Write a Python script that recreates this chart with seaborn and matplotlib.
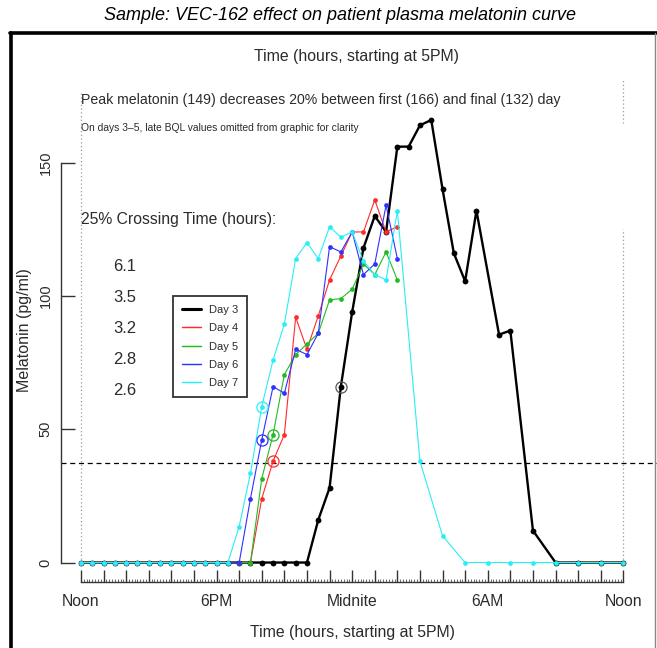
import numpy as np
import matplotlib.pyplot as plt
from matplotlib.lines import Line2D
import seaborn as sns

# Melatonin curves.
# Hours are counted from noon (0 = noon, 12 = midnight, 24 = next noon).
day3_hours = [0, 0.5, 1, 1.5, 2, 2.5, 3, 3.5, 4, 4.5, 5, 5.5, 6, 6.5, 7, 7.5, 8, 8.5, 9, 9.5, 10,
              10.5, 11, 11.5, 12, 12.5, 13, 13.5, 14, 14.5, 15, 15.5, 16, 16.5, 17, 17.5,
              18.5, 19, 20, 21, 22, 23, 24]
day3_values = [0, 0, 0, 0, 0, 0, 0, 0, 0, 0, 0, 0, 0, 0, 0, 0, 0, 0, 0, 0, 0,
               16, 28, 66, 94, 118, 130, 124, 156, 156, 164, 166, 140, 116, 105.5, 132,
               85.5, 87, 12, 0, 0, 0, 0]

day4_hours = [0, 0.5, 1, 1.5, 2, 2.5, 3, 3.5, 4, 4.5, 5, 5.5, 6, 6.5, 7, 7.5,
              8, 8.5, 9, 9.5, 10, 10.5, 11, 11.5, 12, 12.5, 13, 13.5, 14]
day4_values = [0, 0, 0, 0, 0, 0, 0, 0, 0, 0, 0, 0, 0, 0, 0, 0,
               24, 38, 48, 92, 80, 92.5, 106, 115, 124, 124, 136, 124, 126]

day5_hours = [0, 0.5, 1, 1.5, 2, 2.5, 3, 3.5, 4, 4.5, 5, 5.5, 6, 6.5, 7, 7.5,
              8, 8.5, 9, 9.5, 10, 10.5, 11, 11.5, 12, 12.5, 13, 13.5, 14]
day5_values = [0, 0, 0, 0, 0, 0, 0, 0, 0, 0, 0, 0, 0, 0, 0, 0,
               31.5, 48, 70.5, 78, 82, 86, 98.5, 99, 102.5, 112, 108, 116.5, 106]

day6_hours = [0, 0.5, 1, 1.5, 2, 2.5, 3, 3.5, 4, 4.5, 5, 5.5, 6, 6.5, 7,
              7.5, 8, 8.5, 9, 9.5, 10, 10.5, 11, 11.5, 12, 12.5, 13, 13.5, 14]
day6_values = [0, 0, 0, 0, 0, 0, 0, 0, 0, 0, 0, 0, 0, 0, 0,
               24, 46, 66, 63.5, 80, 78, 86, 118.5, 116.5, 124, 108, 112, 134, 114]

day7_hours = [0, 0.5, 1, 1.5, 2, 2.5, 3, 3.5, 4, 4.5, 5, 5.5, 6, 6.5,
              7, 7.5, 8, 8.5, 9, 9.5, 10, 10.5, 11, 11.5, 12, 12.5, 13, 13.5, 14,
              15, 16, 17, 18, 19, 20, 21, 22, 23, 24]
day7_values = [0, 0, 0, 0, 0, 0, 0, 0, 0, 0, 0, 0, 0, 0,
               13.5, 33.5, 58.5, 76, 89.5, 114, 120, 114, 126, 122, 124, 113, 108, 106, 132,
               38, 10, 0, 0, 0, 0, 0, 0, 0, 0]

day_names = ["Day 3", "Day 4", "Day 5", "Day 6", "Day 7"]
day_colors = ["black", "#ff2a2a", "#22bb22", "#3030ff", "#2aeef5"]
day_widths = [1.7, 0.8, 0.8, 0.8, 0.8]
all_hours = [day3_hours, day4_hours, day5_hours, day6_hours, day7_hours]
all_values = [day3_values, day4_values, day5_values, day6_values, day7_values]

# sample at which each day's 25% crossing is circled, and the crossing times listed
cross_hours = [11.5, 8.5, 8.5, 8.0, 8.0]
crossing_times = [6.1, 3.5, 3.2, 2.8, 2.6]
peak_mean = 149

tick_hours = list(range(0, 25))
tick_names = {0: "Noon", 6: "6PM", 12: "Midnite", 18: "6AM", 24: "Noon"}
y_ticks = [0, 50, 100, 150]

sns.set_style("white")
plt.rcParams["font.family"] = ["Liberation Sans", "DejaVu Sans"]
text_color = "#2b2b2b"

W, H = 657, 648
fig = plt.figure(figsize=(W / 100, H / 100), dpi=100)


def px(x, y):
    # pixel position (from top-left) -> figure fraction
    return x / W, 1 - y / H


ax = fig.add_axes([61 / W, 66 / H, 596 / W, 542 / H])
ax.set_xlim(-0.885, 25.49)
ax.set_ylim(-7.3, 196)

# faint dotted reference lines at the two noons
ax.vlines(0, 0, 177, color="#9a9a9a", lw=0.9, ls=(0, (1, 2)), zorder=1)
ax.vlines(24, 0, 125, color="#9a9a9a", lw=0.9, ls=(0, (1, 2)), zorder=1)
ax.vlines(24, 165, 181, color="#9a9a9a", lw=0.9, ls=(0, (1, 2)), zorder=1)

# 25% of mean peak threshold
ax.axhline(0.25 * peak_mean, color="black", lw=0.9, ls=(0, (4, 3)), zorder=1)

for hours, values, color, lw in zip(all_hours, all_values, day_colors, day_widths):
    sns.lineplot(x=hours, y=values, ax=ax, color=color, lw=lw, marker="o",
                 markersize=4.2 if lw > 1 else 3.4, markeredgewidth=0,
                 estimator=None, sort=False, zorder=3)

for hours, values, color, ch in zip(all_hours, all_values, day_colors, cross_hours):
    val = values[hours.index(ch)]
    ring = "#555555" if color == "black" else color
    ax.plot(ch, val, marker="o", markersize=8, markerfacecolor="none",
            markeredgecolor=ring, markeredgewidth=0.9, zorder=4)

# axes styling, R-like range frame
for side in ["top", "right"]:
    ax.spines[side].set_visible(False)
ax.spines["left"].set_bounds(0, 150)
ax.spines["bottom"].set_bounds(0, 24)
for side in ["left", "bottom"]:
    ax.spines[side].set_color("#333333")
    ax.spines[side].set_linewidth(1.0)

ax.set_yticks(y_ticks)
ax.set_yticklabels([str(v) for v in y_ticks])
ax.tick_params(axis="y", left=True, direction="in", length=10, width=1, color="#333333",
               labelrotation=90, pad=6, labelsize=10.5, labelcolor=text_color)
for lbl in ax.get_yticklabels():
    lbl.set_va("center")

ax.set_xticks(tick_hours)
ax.set_xticklabels([tick_names.get(h, "") for h in tick_hours])
ax.set_xticks(np.arange(0, 24.01, 0.125), minor=True)
ax.tick_params(axis="x", which="major", bottom=True, direction="in", length=9, width=1,
               color="#333333", pad=9, labelsize=11.3, labelcolor=text_color)
ax.tick_params(axis="x", which="minor", bottom=True, direction="in", length=2,
               width=0.6, color="#555555")

ax.set_xlabel("")
ax.set_ylabel("")

# legend
handles = [Line2D([], [], color=c, lw=lw * 1.3) for c, lw in zip(day_colors, day_widths)]
leg = fig.legend(handles, day_names, loc="upper left", bbox_to_anchor=px(173, 296),
                 borderaxespad=0, frameon=True, fancybox=False, framealpha=1,
                 edgecolor="#333333", prop={"size": 8}, handlelength=1.7,
                 handletextpad=0.7, labelspacing=0.75, borderpad=0.8)
leg.get_frame().set_linewidth(1.3)
for t in leg.get_texts():
    t.set_color(text_color)

# texts
fig.text(*px(340, 15), "Sample: VEC-162 effect on patient plasma melatonin curve",
         ha="center", va="center", fontsize=13, style="italic", color="black")
fig.text(*px(356, 56), "Time (hours, starting at 5PM)", ha="center", va="center",
         fontsize=11.4, color=text_color)
fig.text(*px(352, 632), "Time (hours, starting at 5PM)", ha="center", va="center",
         fontsize=11.4, color=text_color)
fig.text(*px(25, 330), "Melatonin (pg/ml)", ha="center", va="center", rotation=90,
         fontsize=11.5, color=text_color)
fig.text(*px(81, 100),
         f"Peak melatonin ({peak_mean}) decreases 20% between first "
         f"({max(day3_values):g}) and final ({max(day7_values):g}) day",
         ha="left", va="center", fontsize=10.2, color=text_color)
fig.text(*px(81, 128), "On days 3\u20135, late BQL values omitted from graphic for clarity",
         ha="left", va="center", fontsize=7.4, color=text_color)
fig.text(*px(81, 219), "25% Crossing Time (hours):", ha="left", va="center",
         fontsize=11.3, color=text_color)
for i, ct in enumerate(crossing_times):
    fig.text(*px(113, 267 + 30.8 * i), f"{ct:.1f}", ha="left", va="center",
             fontsize=12, color=text_color)

# outer frame
fig.add_artist(Line2D([10 / W, 1], [1 - 33 / H, 1 - 33 / H], color="black", lw=2.6,
                      transform=fig.transFigure))
fig.add_artist(Line2D([11 / W, 11 / W], [0, 1 - 33 / H], color="black", lw=2.6,
                      transform=fig.transFigure))
fig.add_artist(Line2D([655 / W, 655 / W], [0, 1 - 33 / H], color="#888888", lw=1,
                      transform=fig.transFigure))

fig.savefig("out.png", dpi=100)
